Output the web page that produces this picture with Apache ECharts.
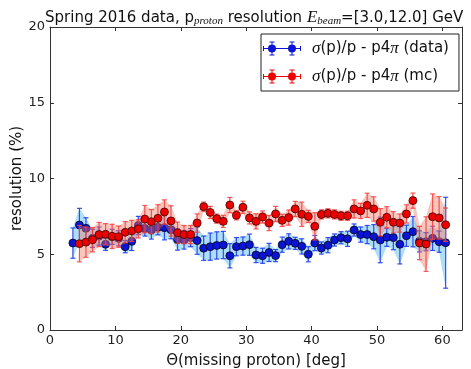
<!DOCTYPE html>
<html>
<head>
<meta charset="utf-8">
<script src="https://cdn.jsdelivr.net/npm/echarts@6/dist/echarts.min.js"></script>
<style>html,body{margin:0;padding:0;background:#fff}#c{width:471px;height:369px}</style>
</head>
<body>
<div id="c"></div>
<script>
// ---- data ----
const thetaData = [3.5,4.5,5.5,6.5,7.5,8.5,9.5,10.5,11.5,12.5,13.5,14.5,15.5,16.5,17.5,18.5,19.5,20.5,21.5,22.5,23.5,24.5,25.5,26.5,27.5,28.5,29.5,30.5,31.5,32.5,33.5,34.5,35.5,36.5,37.5,38.5,39.5,40.5,41.5,42.5,43.5,44.5,45.5,46.5,47.5,48.5,49.5,50.5,51.5,52.5,53.5,54.5,55.5,56.5,57.5,58.5,59.5,60.5];
const resData = [5.74,6.93,6.71,6.05,6.2,5.66,6.15,6.05,5.5,5.85,6.9,6.7,6.6,6.78,6.75,6.62,5.97,5.94,6.1,5.9,5.4,5.5,5.58,5.61,4.9,5.5,5.54,5.63,4.95,4.9,5.12,4.91,5.63,5.85,5.72,5.52,5.0,5.74,5.41,5.6,5.94,6.09,6.02,6.6,6.3,6.3,6.16,5.94,6.12,6.1,5.66,6.22,6.49,5.85,5.83,6.05,5.83,5.76];
const errData = [1.0,1.1,0.7,0.6,0.6,0.4,0.5,0.5,0.4,0.6,0.6,0.5,0.6,0.5,0.8,0.6,0.7,0.6,0.6,0.9,0.8,0.9,0.9,0.9,0.8,0.6,0.6,0.7,0.5,0.5,0.6,0.4,0.5,0.5,0.4,0.5,0.5,0.5,0.4,0.5,0.4,0.4,0.5,0.4,0.5,0.6,0.8,1.5,0.6,0.8,1.3,0.7,1.0,0.7,0.6,0.8,0.7,3.0];
const thetaMc = [4.5,5.5,6.5,7.5,8.5,9.5,10.5,11.5,12.5,13.5,14.5,15.5,16.5,17.5,18.5,19.5,20.5,21.5,22.5,23.5,24.5,25.5,26.5,27.5,28.5,29.5,30.5,31.5,32.5,33.5,34.5,35.5,36.5,37.5,38.5,39.5,40.5,41.5,42.5,43.5,44.5,45.5,46.5,47.5,48.5,49.5,50.5,51.5,52.5,53.5,54.5,55.5,56.5,57.5,58.5,59.5,60.5];
const resMc = [5.7,5.8,5.96,6.3,6.32,6.18,6.16,6.45,6.54,6.68,7.32,7.15,7.37,7.79,7.2,6.42,6.3,6.3,7.06,8.14,7.76,7.35,7.17,8.25,7.57,8.1,7.4,7.17,7.46,7.06,7.66,7.24,7.42,7.99,7.64,7.5,6.84,7.63,7.7,7.63,7.54,7.54,7.99,7.86,8.23,7.99,7.11,7.44,7.11,7.06,7.66,8.54,5.74,5.67,7.48,7.4,6.95];
const errMc = [1.2,1.0,0.8,0.8,0.7,0.8,0.7,0.7,0.7,0.6,0.9,0.8,0.9,0.8,1.0,0.7,0.6,0.6,0.6,0.3,0.4,0.3,0.4,0.5,0.3,0.4,0.4,0.5,0.4,0.5,0.5,0.4,0.5,0.5,0.8,0.4,0.9,0.3,0.3,0.3,0.3,0.3,0.6,0.5,0.8,0.8,0.9,0.7,0.7,0.6,0.6,0.5,1.1,1.8,1.5,1.4,1.1];
const xTicks = [0,10,20,30,40,50,60];
const yTicks = [0,5,10,15,20];

// ---- chart ----
const chart = echarts.init(document.getElementById('c'), null, {renderer:'canvas'});
const triples = (xs, ys, es) => xs.map((x,i) => [x, ys[i], es[i]]);

function bandRender(xs, ys, es, fill) {
  return function(params, api) {
    if (params.dataIndex !== 0) return null;
    const up = [], lo = [];
    for (let i = 0; i < xs.length; i++) {
      up.push(api.coord([xs[i], ys[i] + es[i]]));
      lo.push(api.coord([xs[i], ys[i] - es[i]]));
    }
    return {type:'polygon', shape:{points: up.concat(lo.reverse())}, style:{fill: fill}, silent:true};
  };
}
function errRender(color) {
  return function(params, api) {
    const x = api.value(0), y = api.value(1), e = api.value(2);
    const t = api.coord([x, y + e]), b = api.coord([x, y - e]);
    const cw = 2.5;
    const st = {stroke: color, lineWidth: 1.2};
    return {type:'group', children:[
      {type:'line', shape:{x1:t[0], y1:t[1], x2:b[0], y2:b[1]}, style:st},
      {type:'line', shape:{x1:t[0]-cw, y1:t[1], x2:t[0]+cw, y2:t[1]}, style:st},
      {type:'line', shape:{x1:b[0]-cw, y1:b[1], x2:b[0]+cw, y2:b[1]}, style:st}
    ]};
  };
}
const iconPath = 'path://M0,6.5h38v1h-38z M8.5,0h1v14h-1z M28.5,0h1v14h-1z M6.5,0h5v1h-5z M6.5,13h5v1h-5z M26.5,0h5v1h-5z M26.5,13h5v1h-5z M0,4.5h1v5h-1z M37,4.5h1v5h-1z M5,7a4,4 0 1,1 8,0a4,4 0 1,1 -8,0z M25,7a4,4 0 1,1 8,0a4,4 0 1,1 -8,0z';

const axisCol = '#333';
const labelFont = 'DejaVu Sans';
const option = {
  animation: false,
  backgroundColor: '#fff',
  title: {
    text: 'Spring 2016 data, p{sub|proton} resolution {it|E}{sub|beam}=[3.0,12.0] GeV',
    left: 40, top: 4,
    textStyle: {
      fontFamily: labelFont, fontSize: 15, fontWeight: 'normal', color: '#111',
      rich: {
        sub: {fontFamily: 'Liberation Serif', fontStyle: 'italic', fontSize: 11, padding: [7,0,0,0], lineHeight: 12, verticalAlign: 'top', color: '#111'},
        it: {fontFamily: 'Liberation Serif', fontStyle: 'italic', fontSize: 17, lineHeight: 18, verticalAlign: 'top', color: '#111'}
      }
    }
  },
  legend: {
    orient: 'vertical', left: 261, top: 34,
    itemWidth: 38, itemHeight: 14, itemGap: 11,
    padding: [6, 10, 6, 2],
    borderColor: '#222', borderWidth: 1, backgroundColor: '#fff',
    itemStyle: {borderWidth: 0},
    data: [{name:'data', icon: iconPath}, {name:'mc', icon: iconPath}],
    formatter: n => n === 'data' ? '{g|σ}(p)/p - p4{g|π} (data)' : '{g|σ}(p)/p - p4{g|π} (mc)',
    textStyle: {fontFamily: labelFont, fontSize: 15, color: '#111', padding: [0,0,0,6],
      rich: {g: {fontFamily: 'Liberation Serif', fontStyle: 'italic', fontSize: 17, color: '#111'}}}
  },
  grid: {left: 50, right: 9, top: 27, bottom: 39, outerBoundsMode: 'none', containLabel: false},
  xAxis: [{
    type: 'value', min: 0, max: 63, interval: 10, position: 'bottom',
    name: 'Θ(missing proton) [deg]', nameLocation: 'middle', nameGap: 24, nameMoveOverlap: false,
    nameTextStyle: {fontFamily: labelFont, fontSize: 15, color: '#111'},
    axisLine: {show: true, onZero: false, lineStyle: {color: axisCol, width: 1}},
    axisTick: {show: true, inside: true, length: 4, lineStyle: {color: axisCol}},
    axisLabel: {fontFamily: labelFont, fontSize: 13, color: '#222', margin: 4,
      formatter: v => xTicks.indexOf(v) >= 0 ? String(v) : ''},
    splitLine: {show: false}
  }, {
    type: 'value', min: 0, max: 63, interval: 10, position: 'top',
    axisLine: {show: true, onZero: false, lineStyle: {color: axisCol, width: 1}},
    axisTick: {show: true, inside: true, length: 4, lineStyle: {color: axisCol}},
    axisLabel: {show: false}, splitLine: {show: false}
  }],
  yAxis: [{
    type: 'value', min: 0, max: 20, interval: 5, position: 'left',
    name: 'resolution (%)', nameLocation: 'middle', nameGap: 25, nameRotate: 90, nameMoveOverlap: false,
    nameTextStyle: {fontFamily: labelFont, fontSize: 15, color: '#111'},
    axisLine: {show: true, onZero: false, lineStyle: {color: axisCol, width: 1}},
    axisTick: {show: true, inside: true, length: 4, lineStyle: {color: axisCol}},
    axisLabel: {fontFamily: labelFont, fontSize: 13, color: '#222', margin: 5,
      formatter: v => yTicks.indexOf(v) >= 0 ? String(v) : ''},
    splitLine: {show: false}
  }, {
    type: 'value', min: 0, max: 20, interval: 5, position: 'right',
    axisLine: {show: true, onZero: false, lineStyle: {color: axisCol, width: 1}},
    axisTick: {show: true, inside: true, length: 4, lineStyle: {color: axisCol}},
    axisLabel: {show: false}, splitLine: {show: false}
  }],
  series: [
    {type:'custom', name:'dataBand', xAxisIndex:0, yAxisIndex:0, z:1,
      renderItem: bandRender(thetaData, resData, errData, 'rgba(110,195,240,0.55)'),
      data: triples(thetaData, resData, errData), encode:{x:0, y:1}},
    {type:'custom', name:'dataErr', z:2,
      renderItem: errRender('rgba(30,60,240,0.9)'),
      data: triples(thetaData, resData, errData), encode:{x:0, y:1}},
    {type:'scatter', name:'data', z:3, symbol:'circle', symbolSize:8,
      itemStyle:{color:'#0a14d2', borderColor:'#000', borderWidth:0.7, opacity:1},
      data: thetaData.map((x,i) => [x, resData[i]])},
    {type:'custom', name:'mcBand', z:4,
      renderItem: bandRender(thetaMc, resMc, errMc, 'rgba(240,120,100,0.42)'),
      data: triples(thetaMc, resMc, errMc), encode:{x:0, y:1}},
    {type:'custom', name:'mcErr', z:5,
      renderItem: errRender('rgba(245,60,60,0.85)'),
      data: triples(thetaMc, resMc, errMc), encode:{x:0, y:1}},
    {type:'scatter', name:'mc', z:6, symbol:'circle', symbolSize:8,
      itemStyle:{color:'#ee0000', borderColor:'#200', borderWidth:0.7, opacity:1},
      data: thetaMc.map((x,i) => [x, resMc[i]])}
  ]
};
chart.setOption(option);
</script>
</body>
</html>
